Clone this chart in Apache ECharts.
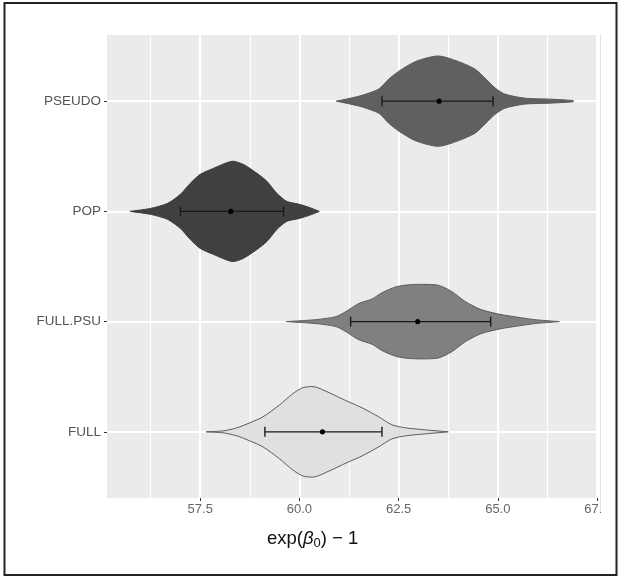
<!DOCTYPE html>
<html>
<head>
<meta charset="utf-8">
<script src="https://cdn.jsdelivr.net/npm/echarts@6/dist/echarts.min.js"></script>
<style>
  html, body { margin: 0; padding: 0; background: #fff; }
  #chart { width: 620px; height: 578px; }
</style>
</head>
<body>
<div id="chart"></div>
<script>
// groups, bottom to top (y = 1..4)
const categories = ['FULL', 'FULL.PSU', 'POP', 'PSEUDO'];
const fills = ['#e0e0e0', '#808080', '#404040', '#606060'];
const strokes = ['#5c5c5c', '#5c5c5c', '#3c3c3c', '#5a5a5a'];

// violin outlines: x positions and half widths (in category bands)
const fullX = [57.65, 58.08, 58.42, 58.75, 59.08, 59.5, 59.83, 60.08, 60.38, 60.75, 61.18, 61.58, 62.0, 62.33, 62.68, 63.18, 63.75];
const fullW = [0, 0.009, 0.036, 0.082, 0.136, 0.245, 0.345, 0.4, 0.409, 0.355, 0.282, 0.218, 0.136, 0.064, 0.036, 0.018, 0];

const fullPsuX = [59.67, 60.42, 60.92, 61.17, 61.5, 61.83, 62.08, 62.43, 62.75, 63.1, 63.5, 63.83, 64.18, 64.58, 65.08, 65.58, 65.93, 66.55];
const fullPsuW = [0, 0.018, 0.045, 0.091, 0.165, 0.205, 0.262, 0.315, 0.334, 0.338, 0.33, 0.275, 0.182, 0.109, 0.064, 0.036, 0.018, 0];

const popX = [55.73, 56.25, 56.68, 57.0, 57.25, 57.5, 57.83, 58.3, 58.58, 58.93, 59.18, 59.43, 59.68, 60.0, 60.25, 60.5];
const popW = [0, 0.027, 0.073, 0.155, 0.255, 0.336, 0.39, 0.455, 0.427, 0.345, 0.273, 0.164, 0.091, 0.064, 0.036, 0];

const pseudoX = [60.93, 61.5, 62.0, 62.25, 62.5, 62.93, 63.5, 64.0, 64.43, 64.7, 64.93, 65.18, 65.68, 66.33, 66.9];
const pseudoW = [0, 0.045, 0.11, 0.2, 0.27, 0.36, 0.41, 0.36, 0.29, 0.2, 0.12, 0.064, 0.027, 0.018, 0.005];

// mean and interval per group
const means = [60.58, 62.98, 58.27, 63.52];
const lower = [59.13, 61.29, 57.0, 62.08];
const upper = [62.08, 64.82, 59.6, 64.88];

const xTicks = [57.5, 60.0, 62.5, 65.0, 67.5];
const xMinorTicks = [56.25, 58.75, 61.25, 63.75, 66.25];

const profiles = [
  [fullX, fullW],
  [fullPsuX, fullPsuW],
  [popX, popW],
  [pseudoX, pseudoW],
];

const chart = echarts.init(document.getElementById('chart'));

function renderViolin(params, api) {
  const i = params.dataIndex;
  const yc = api.value(0);
  const [xs, ws] = profiles[i];
  const top = xs.map((x, k) => api.coord([x, yc + ws[k]]));
  const bottom = xs.map((x, k) => api.coord([x, yc - ws[k]])).reverse();
  const pl = api.coord([lower[i], yc]);
  const pr = api.coord([upper[i], yc]);
  const pm = api.coord([means[i], yc]);
  const cap = 5;
  const lineStyle = { stroke: '#1a1a1a', lineWidth: 1.4 };
  return {
    type: 'group',
    children: [
      {
        type: 'polygon',
        shape: { points: top.concat(bottom), smooth: 0.25 },
        style: { fill: fills[i], stroke: strokes[i], lineWidth: 1 },
      },
      { type: 'line', shape: { x1: pl[0], y1: pl[1], x2: pr[0], y2: pr[1] }, style: lineStyle },
      { type: 'line', shape: { x1: pl[0], y1: pl[1] - cap, x2: pl[0], y2: pl[1] + cap }, style: lineStyle },
      { type: 'line', shape: { x1: pr[0], y1: pr[1] - cap, x2: pr[0], y2: pr[1] + cap }, style: lineStyle },
      { type: 'circle', shape: { cx: pm[0], cy: pm[1], r: 2.6 }, style: { fill: '#000' } },
    ],
  };
}

const option = {
  animation: false,
  backgroundColor: '#fff',
  grid: {
    left: 107,
    top: 35,
    width: 490,
    height: 463,
    show: true,
    backgroundColor: '#ebebeb',
    borderWidth: 0,
  },
  xAxis: [
    {
      type: 'value',
      min: 55.15,
      max: 67.5,
      axisLine: { show: false },
      axisTick: { show: true, length: 3, lineStyle: { color: '#333', width: 1 }, customValues: xTicks },
      axisLabel: {
        customValues: xTicks,
        formatter: (v) => v.toFixed(1),
        color: '#666',
        fontSize: 13,
        fontFamily: 'Liberation Sans',
        margin: 5,
        showMaxLabel: true,
      },
      splitLine: { show: true, lineStyle: { color: '#fff', width: 2 } },
    },
    {
      type: 'value',
      position: 'bottom',
      min: 55.15,
      max: 67.5,
      axisLine: { show: false },
      axisTick: { show: false, customValues: xMinorTicks },
      axisLabel: { show: false, customValues: xMinorTicks },
      splitLine: { show: true, lineStyle: { color: '#fff', width: 1 } },
    },
  ],
  yAxis: {
    type: 'value',
    min: 0.4,
    max: 4.6,
    axisLine: { show: false },
    axisTick: { show: true, length: 3, lineStyle: { color: '#333', width: 1 }, customValues: [1, 2, 3, 4] },
    axisLabel: {
      customValues: [1, 2, 3, 4],
      formatter: (v) => categories[Math.round(v) - 1],
      color: '#555',
      fontSize: 13.5,
      fontFamily: 'Liberation Sans',
      margin: 6,
    },
    splitLine: { show: true, lineStyle: { color: '#fff', width: 2 } },
  },
  series: [
    {
      type: 'custom',
      xAxisIndex: 0,
      yAxisIndex: 0,
      renderItem: renderViolin,
      data: categories.map((c, i) => [i + 1]),
      z: 5,
    },
  ],
  graphic: [
    // crop of the right edge, as in the source image
    { type: 'rect', left: 601, top: 499, shape: { width: 14, height: 24 }, style: { fill: '#fff' }, z: 100 },
    { type: 'line', shape: { x1: 600.5, y1: 34, x2: 600.5, y2: 512 }, style: { stroke: '#e4e4e4', lineWidth: 1 }, z: 100 },
    {
      type: 'text',
      left: 267,
      top: 529,
      style: {
        text: '{a|exp(}{b|β}{c|0}{a|) − 1}',
        rich: {
          a: { fontSize: 18.5, fontFamily: 'Liberation Sans', fill: '#111', lineHeight: 22 },
          b: { fontSize: 18.5, fontFamily: 'Liberation Sans', fontStyle: 'italic', fill: '#111', lineHeight: 22 },
          c: { fontSize: 13, fontFamily: 'Liberation Sans', fill: '#111', lineHeight: 16, verticalAlign: 'bottom' },
        },
      },
      z: 100,
    },
    // outer frame
    { type: 'rect', shape: { x: 4.5, y: 3, width: 612, height: 572 }, style: { fill: null, stroke: '#222', lineWidth: 2 }, z: 100 },
  ],
};

chart.setOption(option);
</script>
</body>
</html>
